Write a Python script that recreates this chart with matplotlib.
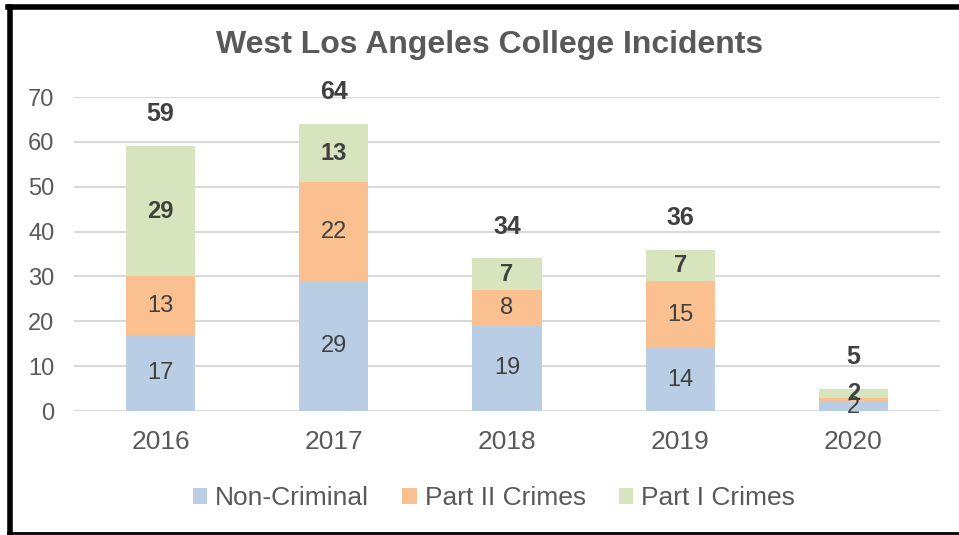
import matplotlib
matplotlib.use("Agg")
import matplotlib.pyplot as plt
from matplotlib.lines import Line2D
import numpy as np

plt.rcParams['font.family'] = ['Liberation Sans', 'DejaVu Sans']

years = ["2016", "2017", "2018", "2019", "2020"]
non_criminal = [17, 29, 19, 14, 2]
part2 = [13, 22, 8, 15, 1]
part1 = [29, 13, 7, 7, 2]
totals = [59, 64, 34, 36, 5]

c_blue = "#B9CDE5"
c_orange = "#FAC090"
c_green = "#D7E4BD"
txt = "#404040"
grey = "#595959"

fig = plt.figure(figsize=(9.59, 5.35), dpi=100)
ax = fig.add_axes([74 / 959, 1 - 411 / 535, 866 / 959, 314 / 535])

x = np.arange(len(years))
w = 0.4
nc = np.array(non_criminal)
p2 = np.array(part2)
p1 = np.array(part1)

b1 = ax.bar(x, nc, w, color=c_blue, label="Non-Criminal", zorder=3)
b2 = ax.bar(x, p2, w, bottom=nc, color=c_orange, label="Part II Crimes", zorder=3)
b3 = ax.bar(x, p1, w, bottom=nc + p2, color=c_green, label="Part I Crimes", zorder=3)

# segment labels
for i in range(len(years)):
    ax.text(x[i], nc[i] / 2, str(nc[i]), ha="center", va="center",
            fontsize=17, color=txt, zorder=4)
    if p2[i] > 1:
        ax.text(x[i], nc[i] + p2[i] / 2, str(p2[i]), ha="center", va="center",
                fontsize=17, color=txt, zorder=4)
    ax.text(x[i], nc[i] + p2[i] + p1[i] / 2, str(p1[i]), ha="center", va="center",
            fontsize=17, color=txt, fontweight="bold", zorder=4)
    ax.annotate(str(totals[i]), (x[i], totals[i]), xytext=(0, 23),
                textcoords="offset points", ha="center", va="center",
                fontsize=18, color=txt, fontweight="bold")

ax.set_xlim(-0.5, 4.5)
ax.set_ylim(0, 70)
ax.set_yticks(range(0, 71, 10))
ax.set_xticks(x)
ax.set_xticklabels(years)
ax.yaxis.grid(True, color="#D9D9D9", linewidth=1.5, zorder=0)
ax.set_axisbelow(True)
for s in ax.spines.values():
    s.set_visible(False)
ax.tick_params(axis="both", length=0, colors=grey)
ax.tick_params(axis="x", labelsize=19, pad=14)
ax.tick_params(axis="y", labelsize=17, pad=14)

fig.text(490 / 959, 1 - 45 / 535, "West Los Angeles College Incidents",
         ha="center", va="center", fontsize=23, fontweight="bold", color=grey)

leg = fig.legend(handles=[b1, b2, b3], loc="center", bbox_to_anchor=(494 / 959, 1 - 498 / 535),
                 ncol=3, frameon=False, fontsize=19, handlelength=0.55, handleheight=0.55,
                 handletextpad=0.3, columnspacing=1.25)
for t in leg.get_texts():
    t.set_color(grey)

# black frame around the chart (left, top, bottom)
fig.add_artist(Line2D([10 / 959, 10 / 959], [0.5 / 535, 1 - 7 / 535], color="black", linewidth=4,
                      transform=fig.transFigure))
fig.add_artist(Line2D([8 / 959, 1.0], [1 - 7 / 535, 1 - 7 / 535], color="black", linewidth=4,
                      transform=fig.transFigure))
fig.add_artist(Line2D([8 / 959, 1.0], [2 / 535, 2 / 535], color="black", linewidth=2,
                      transform=fig.transFigure))

fig.savefig("out.png", dpi=100)
